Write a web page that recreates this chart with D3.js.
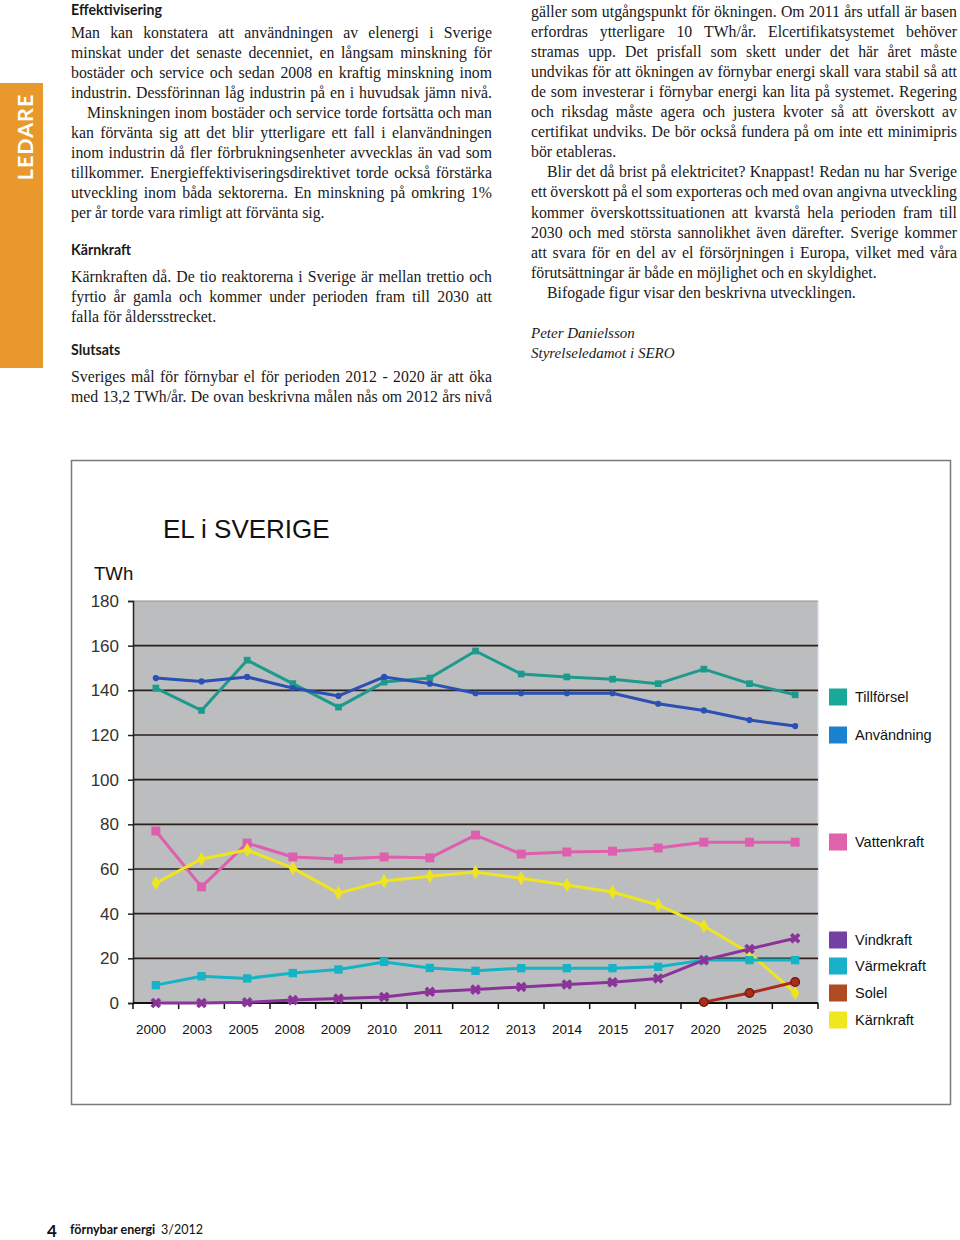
<!DOCTYPE html>
<html><head><meta charset="utf-8">
<script src="https://cdn.jsdelivr.net/npm/d3@7"></script>
<style>
html,body{margin:0;padding:0;background:#fff;}
svg{display:block;}
</style></head>
<body>
<svg id="page" width="960" height="1240"></svg>
<script>
// ---------- DATA ----------
const categories = ["2000","2003","2005","2008","2009","2010","2011","2012","2013","2014","2015","2017","2020","2025","2030"];
const tillforsel = [141,131,153.5,143,132.5,143.7,145.5,157.6,147.3,146,145,143,149.5,143,138];
const anvandning = [145.5,144,146,141,137.5,146,143,138.7,138.7,138.7,138.7,134,131,126.7,124];
const vattenkraft = [77,52,71.6,65.4,64.5,65.4,65,75.2,66.7,67.6,68,69.4,72,72,72];
const karnkraft = [53.7,64.5,68.5,60.4,49.2,54.6,56.8,58.6,55.9,52.8,49.7,43.9,34.5,22.4,4.5];
const varmekraft = [8,12,11,13.4,15,18.4,15.7,14.4,15.6,15.6,15.6,16.2,19.2,19.2,19.2];
const vindkraft = [0,0,0.3,1.3,2,2.7,5,6,7.2,8.3,9.3,11,19.2,24.2,29];
const solel = [null,null,null,null,null,null,null,null,null,null,null,null,0.4,4.5,9.4];
const yTicks = [0,20,40,60,80,100,120,140,160,180];
const seriesNames = ["Tillförsel","Användning","Vattenkraft","Vindkraft","Värmekraft","Solel","Kärnkraft"];
const chartTitle = "EL i SVERIGE";
const unitLabel = "TWh";

// ---------- PAGE TEXT ----------
const leftBlocks = [
  {type:"h", text:"Effektivisering", base:15},
  {type:"p", start:38, lines:[
    ["Man kan konstatera att användningen av elenergi i Sverige",0,1],
    ["minskat under det senaste decenniet, en långsam minskning för",0,1],
    ["bostäder och service och sedan 2008 en kraftig minskning inom",0,1],
    ["industrin. Dessförinnan låg industrin på en i huvudsak jämn nivå.",0,1],
    ["Minskningen inom bostäder och service torde fortsätta och man",1,1],
    ["kan förvänta sig att det blir ytterligare ett fall i elanvändningen",0,1],
    ["inom industrin då fler förbrukningsenheter avvecklas än vad som",0,1],
    ["tillkommer. Energieffektiviseringsdirektivet torde också förstärka",0,1],
    ["utveckling inom båda sektorerna. En minskning på omkring 1%",0,1],
    ["per år torde vara rimligt att förvänta sig.",0,0]]},
  {type:"h", text:"Kärnkraft", base:255},
  {type:"p", start:282, lines:[
    ["Kärnkraften då. De tio reaktorerna i Sverige är mellan trettio och",0,1],
    ["fyrtio år gamla och kommer under perioden fram till 2030 att",0,1],
    ["falla för åldersstrecket.",0,0]]},
  {type:"h", text:"Slutsats", base:355},
  {type:"p", start:382, lines:[
    ["Sveriges mål för förnybar el för perioden 2012 - 2020 är att öka",0,1],
    ["med 13,2 TWh/år. De ovan beskrivna målen nås om 2012 års nivå",0,1]]}
];
const rightBlocks = [
  {type:"p", start:17, lines:[
    ["gäller som utgångspunkt för ökningen. Om 2011 års utfall är basen",0,1],
    ["erfordras ytterligare 10 TWh/år. Elcertifikatsystemet behöver",0,1],
    ["stramas upp. Det prisfall som skett under det här året måste",0,1],
    ["undvikas för att ökningen av förnybar energi skall vara stabil så att",0,1],
    ["de som investerar i förnybar energi kan lita på systemet. Regering",0,1],
    ["och riksdag måste agera och justera kvoter så att överskott av",0,1],
    ["certifikat undviks. De bör också fundera på om inte ett minimipris",0,1],
    ["bör etableras.",0,0],
    ["Blir det då brist på elektricitet? Knappast! Redan nu har Sverige",1,1],
    ["ett överskott på el som exporteras och med ovan angivna utveckling",0,1],
    ["kommer överskottssituationen att kvarstå hela perioden fram till",0,1],
    ["2030 och med största sannolikhet även därefter. Sverige kommer",0,1],
    ["att svara för en del av el försörjningen i Europa, vilket med våra",0,1],
    ["förutsättningar är både en möjlighet och en skyldighet.",0,0],
    ["Bifogade figur visar den beskrivna utvecklingen.",1,0]]},
  {type:"i", start:338, lines:["Peter Danielsson","Styrelseledamot i SERO"]}
];

const svg = d3.select("#page");
const SERIF = "'Liberation Serif','Times New Roman',serif";
const HEAD = "Lato,'Open Sans',sans-serif";
const SANS = "'Liberation Sans',Arial,sans-serif";
const FS = 15.8, LH = 20.05;

// measuring helper
const meas = svg.append("text").attr("font-family",SERIF).attr("font-size",FS).attr("x",-1000).attr("y",-1000);
function wordWidth(w){ meas.text(w); return meas.node().getComputedTextLength(); }

function drawColumn(blocks, x0, width){
  const g = svg.append("g");
  blocks.forEach(b=>{
    if(b.type==="h"){
      g.append("text").attr("x",x0).attr("y",b.base).attr("font-family",HEAD)
        .attr("font-weight",700).attr("font-size",14.2).attr("fill","#1a1a1a").text(b.text);
    } else if(b.type==="i"){
      b.lines.forEach((t,i)=>{
        g.append("text").attr("x",x0).attr("y",b.start+i*LH).attr("font-family",SERIF)
          .attr("font-style","italic").attr("font-size",15).attr("fill","#1a1a1a").text(t);
      });
    } else {
      b.lines.forEach(([t,indent,just],i)=>{
        const y = b.start + i*LH;
        const xs = x0 + (indent?16:0);
        const avail = width - (indent?16:0);
        const words = t.split(" ");
        const ws = words.map(wordWidth);
        const sum = d3.sum(ws);
        let gap = wordWidth("a b") - wordWidth("ab");
        if(just && words.length>1) gap = (avail - sum)/(words.length-1);
        let ls = 0;
        if(gap < 2.2){ // compress letters a bit instead
          const chars = t.replace(/ /g,"").length;
          ls = (avail - sum - 2.2*(words.length-1))/chars;
          gap = 2.2;
        }
        const tx = g.append("text").attr("y",y).attr("font-family",SERIF)
          .attr("font-size",FS).attr("fill","#1a1a1a");
        let cx = xs;
        words.forEach((w,k)=>{
          tx.append("tspan").attr("x",cx).attr("letter-spacing",ls?ls:null).text(w);
          cx += ws[k] + (ls? ls*w.length:0) + gap;
        });
      });
    }
  });
}
drawColumn(leftBlocks, 71, 421);
drawColumn(rightBlocks, 531, 426);
meas.remove();

// LEDARE side tab
svg.append("rect").attr("x",0).attr("y",83).attr("width",43).attr("height",285).attr("fill","#e9992b");
svg.append("text").attr("transform","translate(33,137) rotate(-90)").attr("text-anchor","middle")
  .attr("font-family",HEAD).attr("font-weight",700).attr("font-size",21.5).attr("letter-spacing",1)
  .attr("fill","#fff").text("LEDARE");

// footer
svg.append("text").attr("x",47).attr("y",1237).attr("font-family",HEAD).attr("font-weight",700)
  .attr("font-size",17).attr("fill","#111").text("4");
svg.append("text").attr("x",70).attr("y",1234).attr("font-family",HEAD).attr("font-weight",700)
  .attr("font-size",12.5).attr("fill","#111").text("förnybar energi");
svg.append("text").attr("x",161).attr("y",1234).attr("font-family",HEAD)
  .attr("font-size",12.5).attr("fill","#111").text("3/2012");

// ---------- CHART ----------
svg.append("rect").attr("x",71.5).attr("y",460.5).attr("width",879).attr("height",644)
  .attr("fill","#fff").attr("stroke","#7a7a7a").attr("stroke-width",1.5);

const x = d3.scaleBand().domain(categories).range([133,818]);
const xc = c => x(c) + x.bandwidth()/2;
const xl = d3.scalePoint().domain(categories).range([151,798]);
const y = d3.scaleLinear().domain([0,180]).range([1003,601]);

const chart = svg.append("g");
chart.append("text").attr("x",163).attr("y",538).attr("font-family",SANS).attr("font-size",26)
  .attr("fill","#111").text(chartTitle);
chart.append("text").attr("x",94).attr("y",580).attr("font-family",SANS).attr("font-size",18.6)
  .attr("fill","#111").text(unitLabel);

// plot background
chart.append("rect").attr("x",133).attr("y",y(180)).attr("width",818-133).attr("height",y(0)-y(180))
  .attr("fill","#bcbdbf");
chart.append("line").attr("x1",818).attr("x2",818).attr("y1",y(180)).attr("y2",y(0))
  .attr("stroke","#d5dde6").attr("stroke-width",1.5);
chart.append("line").attr("x1",133).attr("x2",818).attr("y1",y(180)).attr("y2",y(180))
  .attr("stroke","#8d9298").attr("stroke-width",1);

// grid
chart.append("g").selectAll("line").data(yTicks.filter(v=>v>0 && v<180)).join("line")
  .attr("x1",133).attr("x2",818).attr("y1",d=>y(d)).attr("y2",d=>y(d))
  .attr("stroke","#2b1f1a").attr("stroke-width",1.6);

// y axis
const yAx = chart.append("g").attr("transform","translate(133,0)")
  .call(d3.axisLeft(y).tickValues(yTicks).tickSize(5).tickPadding(9));
yAx.select(".domain").attr("stroke","#222").attr("stroke-width",1.5);
yAx.selectAll(".tick line").attr("stroke","#222").attr("stroke-width",1.5);
yAx.selectAll(".tick text").attr("font-family",SANS).attr("font-size",17).attr("fill","#333");

// x axis
chart.append("line").attr("x1",133).attr("x2",818).attr("y1",y(0)).attr("y2",y(0))
  .attr("stroke","#111").attr("stroke-width",2);
chart.append("g").selectAll("line").data(categories.map(c=>x(c)).concat([818])).join("line")
  .attr("x1",d=>d).attr("x2",d=>d).attr("y1",y(0)).attr("y2",y(0)+6)
  .attr("stroke","#111").attr("stroke-width",1.5);
chart.append("g").selectAll("text").data(categories).join("text")
  .attr("x",d=>xl(d)).attr("y",1034).attr("text-anchor","middle")
  .attr("font-family",SANS).attr("font-size",13.5).attr("fill","#111").text(d=>d);

// series
const series = [
  {name:"Tillförsel", vals:tillforsel, line:"#1d9a8c", mark:"#1d9a8c", sym:d3.symbolSquare, size:45, rot:0},
  {name:"Användning", vals:anvandning, line:"#2b50b4", mark:"#2b50b4", sym:d3.symbolCircle, size:30, rot:0},
  {name:"Vattenkraft", vals:vattenkraft, line:"#de5fae", mark:"#de5fae", sym:d3.symbolSquare, size:80, rot:0},
  {name:"Kärnkraft", vals:karnkraft, line:"#eee51f", mark:"#eee51f", sym:d3.symbolDiamond, size:60, rot:0},
  {name:"Värmekraft", vals:varmekraft, line:"#14b3c6", mark:"#14b3c6", sym:d3.symbolSquare, size:70, rot:0},
  {name:"Vindkraft", vals:vindkraft, line:"#8a3499", mark:"#8a3499", sym:d3.symbolCross, size:70, rot:45},
  {name:"Solel", vals:solel, line:"#a92c1c", mark:"#a92c1c", sym:d3.symbolCircle, size:60, rot:0}
];
const lineGen = d3.line().defined(d=>d.v!=null).x(d=>xc(d.c)).y(d=>y(d.v));
series.forEach(s=>{
  const pts = categories.map((c,i)=>({c, v:s.vals[i]}));
  chart.append("path").datum(pts).attr("d",lineGen).attr("fill","none")
    .attr("stroke",s.line).attr("stroke-width",3).attr("stroke-linejoin","round");
  chart.append("g").selectAll("path").data(pts.filter(d=>d.v!=null)).join("path")
    .attr("d",d3.symbol().type(s.sym).size(s.size))
    .attr("transform",d=>`translate(${xc(d.c)},${y(d.v)}) rotate(${s.rot})`)
    .attr("fill",s.mark).attr("stroke",s.name==="Solel"?"#6e1a10":"none").attr("stroke-width",1.2);
});

// legend
const legendColors = ["#1aa898","#1a82d0","#df62ad","#7340a3","#19b1c9","#b04a22","#efe81c"];
const legendY = [697,735,842,940,966,993,1020];
const lg = chart.append("g").selectAll("g").data(seriesNames).join("g")
  .attr("transform",(d,i)=>`translate(829,${legendY[i]})`);
lg.append("rect").attr("x",0).attr("y",-8.5).attr("width",18).attr("height",17)
  .attr("fill",(d,i)=>legendColors[i]);
lg.append("text").attr("x",26).attr("y",5).attr("font-family",SANS).attr("font-size",14.5)
  .attr("fill","#111").text(d=>d);
</script>
</body></html>
